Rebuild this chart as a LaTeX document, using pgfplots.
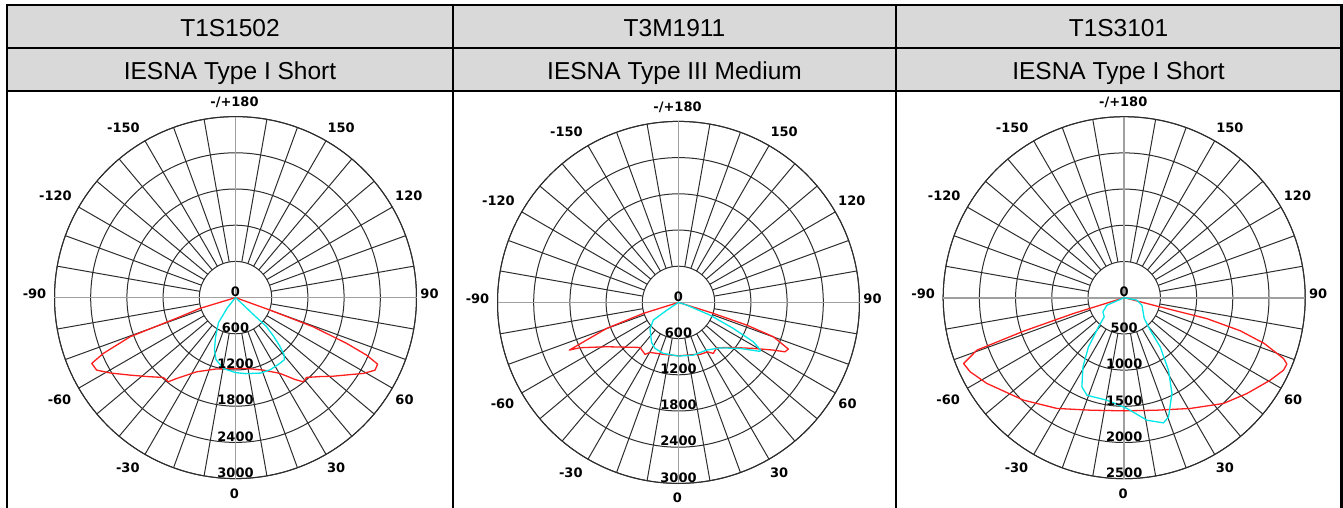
\documentclass[border=0pt]{standalone}
\usepackage{pgfplots}
\usepackage{pgfplotstable}
\pgfplotsset{compat=1.18}
\usepgfplotslibrary{polar}
\usepackage{fontspec}
\setmainfont{Liberation Sans}
\newfontfamily\polfont{DejaVu Sans}
\newcommand\labfont{\polfont\bfseries\fontsize{13bp}{15bp}\selectfont}
\definecolor{hdrgray}{RGB}{217,217,217}
\definecolor{gridc}{RGB}{45,45,45}
\definecolor{axgray}{RGB}{160,160,160}
\definecolor{redc}{RGB}{255,30,30}
\definecolor{cyanc}{RGB}{0,230,230}

% angle (0 = down, 90 = right)  intensity (cd)
\pgfplotstableread{
a I
-90 0
-73.1 615
-70.9 973
-69.6 1865
-67.1 2379
-65.4 2621
-62.4 2596
-58.9 2420
-53.7 2170
-48.1 1960
-42.1 1784
-38.6 1786
-36.0 1656
-27.6 1388
-15.6 1230
0 1174
10 1195
21.0 1287
30.4 1457
36.0 1677
38.8 1792
41.7 1772
47.1 1923
51.2 2079
56.2 2294
59.3 2463
62.5 2606
64.9 2602
66.3 2374
67.6 1994
69.4 1377
70.1 608
90 0
}\redA
\pgfplotstableread{
a I
-90 0
-38.7 212
-34.2 501
-26.6 741
-22.0 930
-17.5 1077
-9.6 1193
0 1243
7.5 1271
18.3 1318
25.9 1327
33.7 1315
38.3 1310
40.4 1240
42.5 1079
44.6 897
46.9 703
46.6 411
46.8 182
90 0
}\cyanA
\pgfplotstableread{
a I
-90 0
-72.6 611
-70.1 1266
-66.4 1975
-65.3 1798
-58.3 1399
-50.9 1175
-40.5 982
-32.8 1025
-29.7 954
-16.3 898
0 885
16 900
22.5 933
30.4 951
34.3 1023
39.9 983
48.9 1134
58.4 1455
63.3 1759
65.1 1946
67.0 1978
70.1 1671
71.6 1191
72.5 605
90 0
}\redB
\pgfplotstableread{
a I
-90 0
-56.3 239
-54.9 510
-47.1 645
-34.0 800
-27.1 856
-16.6 882
0 890
15.9 908
30.6 918
42.4 1021
53.2 1273
59.0 1576
59.9 1571
62.2 1401
64.6 1005
68.0 563
71.8 143
90 0
}\cyanB
\pgfplotstableread{
a I
-90 0
-72.7 733
-71.6 1466
-70.4 2160
-67.7 2398
-64.3 2361
-58.0 2236
-44.5 1984
-31.3 1790
-16.8 1623
0 1563
16.2 1618
30.8 1781
43.2 2004
52.0 2150
60.5 2316
65.5 2417
67.8 2427
69.1 2355
71.9 2034
74.1 1666
75.8 1178
75.6 471
90 0
}\redC
\pgfplotstableread{
a I
-90 0
-66.6 261
-56.3 354
-46.2 383
-41.4 537
-36.0 840
-30.8 1113
-25.4 1363
-20.9 1442
-9.6 1436
1.4 1530
10.5 1721
17.4 1812
20.4 1757
26.5 1478
31.4 1174
36.2 842
38.7 575
43.9 399
67.0 266
78.9 179
90 0
}\cyanC

\pgfplotsset{
  lumpolar/.style={
    scale only axis, width=362bp, height=362bp, anchor=center,
    xmin=0, xmax=360, ymin=0,
    xtick=\empty,
    yticklabels={},
    ymajorgrids,
    major grid style={draw=gridc, line width=1bp},
    axis line style={draw=gridc, line width=1bp},
    y axis line style={draw=none},
    ytick style={draw=none},
    clip=false,
  }
}

% spokes from first ring (#1) to outer ring (#2), and the two axes
\newcommand\spokes[2]{%
  \pgfplotsinvokeforeach{10,20,30,40,50,60,70,80,100,110,120,130,140,150,160,170,190,200,210,220,230,240,250,260,280,290,300,310,320,330,340,350}{%
    \draw[gridc, line width=1bp] (axis cs:##1,#1) -- (axis cs:##1,#2);}%
  \draw[axgray, line width=1.6bp] (axis cs:0,#2) -- (axis cs:180,#2);
  \draw[axgray, line width=1.6bp] (axis cs:90,#2) -- (axis cs:270,#2);
}
\newcommand\rlab[1]{\node[font=\labfont, yshift=6bp, inner sep=0pt] at (axis cs:270,#1) {#1};}

\newcommand\anglabels[2]{%
  \begin{scope}[shift={(#1bp,#2bp)}, x=1bp, y=1bp]
    \node[font=\labfont] at (-1,195) {-/+180};
    \node[font=\labfont] at (105.7,170.3) {150};
    \node[font=\labfont] at (-112,170.3) {-150};
    \node[font=\labfont] at (173.3,101.7) {120};
    \node[font=\labfont] at (-180,101.7) {-120};
    \node[font=\labfont] at (194,3.7) {90};
    \node[font=\labfont] at (-201,3.7) {-90};
    \node[font=\labfont] at (169,-101.7) {60};
    \node[font=\labfont] at (-176,-101.7) {-60};
    \node[font=\labfont] at (100.7,-170) {30};
    \node[font=\labfont] at (-107.7,-170) {-30};
    \node[font=\labfont] at (-1,-195.7) {0};
  \end{scope}}

\begin{document}
\begin{tikzpicture}
\useasboundingbox (0,0) rectangle (1343bp,508bp);
% header
\fill[hdrgray] (7bp,417bp) rectangle (1341bp,503.2bp);
\begin{scope}[line width=2bp, black]
  \draw (6bp,503.2bp) -- (1342.5bp,503.2bp);
  \draw (7bp,460bp) -- (1341bp,460bp);
  \draw (7bp,417bp) -- (1341bp,417bp);
  \draw (7bp,504.2bp) -- (7bp,-2bp);
  \draw (453bp,504.2bp) -- (453bp,-2bp);
  \draw (896bp,504.2bp) -- (896bp,-2bp);
  \draw[line width=3bp] (1341.5bp,504.2bp) -- (1341.5bp,-2bp);
\end{scope}
\begin{scope}[every node/.style={anchor=base, inner sep=0pt, font=\fontsize{24.5bp}{27bp}\selectfont}]
  \node at (230bp,471.3bp) {T1S1502};
  \node at (674.5bp,471.3bp) {T3M1911};
  \node at (1118.5bp,471.3bp) {T1S3101};
  \node at (230bp,428bp) {IESNA Type I Short};
  \node at (674.5bp,428bp) {IESNA Type III Medium};
  \node at (1118.5bp,428bp) {IESNA Type I Short};
\end{scope}

% panel 1
\begin{polaraxis}[lumpolar, at={(235.5bp,210.4bp)}, ymax=3000, ytick={600,1200,1800,2400,3000}]
  \spokes{600}{3000}
  \addplot[redc, line width=1.3bp, line join=round] table[x expr=\thisrow{a}-90, y=I] {\redA};
  \addplot[cyanc, line width=1.3bp, line join=round] table[x expr=\thisrow{a}-90, y=I] {\cyanA};
  \rlab{0}\rlab{600}\rlab{1200}\rlab{1800}\rlab{2400}\rlab{3000}
\end{polaraxis}
\anglabels{235.5}{210.4}

% panel 2
\begin{polaraxis}[lumpolar, at={(678.5bp,205.6bp)}, ymax=3000, ytick={600,1200,1800,2400,3000}]
  \spokes{600}{3000}
  \addplot[redc, line width=1.3bp, line join=round] table[x expr=\thisrow{a}-90, y=I] {\redB};
  \addplot[cyanc, line width=1.3bp, line join=round] table[x expr=\thisrow{a}-90, y=I] {\cyanB};
  \rlab{0}\rlab{600}\rlab{1200}\rlab{1800}\rlab{2400}\rlab{3000}
\end{polaraxis}
\anglabels{678.5}{205.6}

% panel 3
\begin{polaraxis}[lumpolar, at={(1124.2bp,210.3bp)}, ymax=2500, ytick={500,1000,1500,2000,2500}]
  \spokes{500}{2500}
  \addplot[redc, line width=1.3bp, line join=round] table[x expr=\thisrow{a}-90, y=I] {\redC};
  \addplot[cyanc, line width=1.3bp, line join=round] table[x expr=\thisrow{a}-90, y=I] {\cyanC};
  \rlab{0}\rlab{500}\rlab{1000}\rlab{1500}\rlab{2000}\rlab{2500}
\end{polaraxis}
\anglabels{1124.2}{210.3}
\end{tikzpicture}
\end{document}
